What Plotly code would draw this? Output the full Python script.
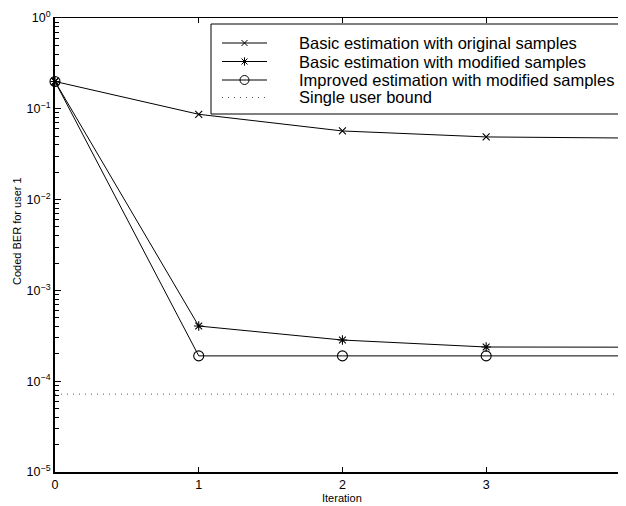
import plotly.graph_objects as go

iterations = [0, 1, 2, 3, 4]
ber_basic_original = [0.2, 0.087, 0.057, 0.049, 0.0476]
ber_basic_modified = [0.2, 4.05e-4, 2.84e-4, 2.38e-4, 2.37e-4]
ber_improved_modified = [0.2, 1.9e-4, 1.9e-4, 1.9e-4, 1.9e-4]
single_user_bound = [7.2e-5, 7.2e-5]
bound_x = [0, 4]

names = ["Basic estimation with original samples",
         "Basic estimation with modified samples",
         "Improved estimation with modified samples",
         "Single user bound"]

ytick_vals = [1e-5, 1e-4, 1e-3, 1e-2, 1e-1, 1e0]
ytick_text = ["10<sup>−5</sup>", "10<sup>−4</sup>", "10<sup>−3</sup>",
              "10<sup>−2</sup>", "10<sup>−1</sup>", "10<sup>0</sup>"]
xtick_vals = [0, 1, 2, 3]
minor_vals = [m * 10 ** e for e in range(-5, 0) for m in range(2, 10)]

FONT = "Liberation Sans, Arial, sans-serif"
X_MAX = 3.973
BODY = 8  # default page margin of the html body

# plot-area geometry in page pixels
PL, PR, PT, PB = 55, 626, 18, 472
PW, PH = PR - PL, PB - PT


def px_to_paper(px, py):
    return (px - PL) / PW, (PB - py) / PH


symbols = ["x-thin-open", "asterisk-open", "circle-open"]
msizes = [7, 8, 10]

fig = go.Figure()
series = [ber_basic_original, ber_basic_modified, ber_improved_modified]
for s, name, sym, ms in zip(series, names[:3], symbols, msizes):
    fig.add_trace(go.Scatter(x=iterations, y=s, name=name,
                             mode="lines+markers", cliponaxis=False, showlegend=False,
                             line=dict(color="black", width=1),
                             marker=dict(symbol=sym, size=ms, color="black",
                                         line=dict(color="black", width=1.1))))
fig.add_trace(go.Scatter(x=bound_x, y=single_user_bound, name=names[3],
                         mode="lines", showlegend=False,
                         line=dict(color="#555555", width=1, dash="1px,5px")))

# ---- hand-built legend (MATLAB style box) on a pixel-mapped helper axis ----
LEG_L, LEG_R, LEG_T, LEG_B = 211, 619, 24, 114
row_y = [43, 61.5, 80, 97.5]
samp_x0, samp_x1, text_x = 222, 267, 297

shapes = [dict(type="rect", xref="x3", yref="y3", x0=LEG_L, x1=LEG_R, y0=LEG_T, y1=LEG_B,
               line=dict(color="black", width=1), fillcolor="white", layer="below")]
for i, ry in enumerate(row_y):
    shapes.append(dict(type="line", xref="x3", yref="y3", x0=samp_x0, x1=samp_x1,
                       y0=ry, y1=ry,
                       line=dict(color="black" if i < 3 else "#555555", width=1,
                                 dash="solid" if i < 3 else "1px,5px")))
for i in range(3):
    fig.add_trace(go.Scatter(x=[(samp_x0 + samp_x1) / 2], y=[row_y[i]], xaxis="x3", yaxis="y3",
                             mode="markers", cliponaxis=False, showlegend=False,
                             hoverinfo="skip",
                             marker=dict(symbol=symbols[i], size=msizes[i] - 1, color="black",
                                         line=dict(color="black", width=1))))

annotations = []
for n, ry in zip(names, row_y):
    ax_, ay_ = px_to_paper(text_x, ry)
    annotations.append(dict(text=n, xref="paper", yref="paper", x=ax_, y=ay_,
                            xanchor="left", yanchor="middle", showarrow=False,
                            font=dict(family=FONT, size=16.5, color="black")))
yx, yy = px_to_paper(17, 231)
annotations.append(dict(text="Coded BER for user 1", textangle=-90, xref="paper", yref="paper",
                        x=yx, y=yy, xanchor="center", yanchor="middle", showarrow=False,
                        font=dict(size=11, family=FONT)))
tx, ty = px_to_paper(342, 498)
annotations.append(dict(text="Iteration", xref="paper", yref="paper", x=tx, y=ty,
                        xanchor="center", yanchor="middle", showarrow=False,
                        font=dict(size=11, family=FONT)))

fig.update_layout(
    width=626 - BODY, height=506 - BODY,
    margin=dict(l=PL - BODY, r=0, t=PT - BODY, b=506 - PB, pad=0, autoexpand=False),
    paper_bgcolor="white", plot_bgcolor="white",
    font=dict(family=FONT, size=12, color="black"),
    showlegend=False,
    xaxis=dict(range=[0, X_MAX], tickvals=xtick_vals, ticks="inside", ticklen=5,
               tickwidth=1, tickcolor="black", showline=True, linewidth=2,
               linecolor="black", showgrid=False, zeroline=False,
               tickfont=dict(size=12.5), automargin=False),
    xaxis2=dict(range=[0, X_MAX], overlaying="x", side="top", tickvals=[1, 2, 3],
                ticks="inside", ticklen=5, tickwidth=1, tickcolor="black",
                showline=True, linewidth=1, linecolor="black",
                showticklabels=False, showgrid=False, zeroline=False, automargin=False),
    xaxis3=dict(range=[PL, PR], overlaying="x", anchor="y3", visible=False,
                showgrid=False, zeroline=False),
    yaxis=dict(type="log", range=[-5, 0], tickvals=ytick_vals, ticktext=ytick_text,
               ticks="inside", ticklen=6, tickwidth=1, tickcolor="black",
               showline=True, linewidth=2, linecolor="black",
               showgrid=False, zeroline=False, tickfont=dict(size=12.5), automargin=False,
               minor=dict(tickvals=minor_vals, ticks="inside", ticklen=4,
                          tickwidth=1, tickcolor="black", showgrid=False)),
    yaxis2=dict(type="log", range=[-5, 0], overlaying="y", side="right",
                tickvals=ytick_vals, ticks="inside", ticklen=3, tickwidth=1,
                tickcolor="#555555", showline=False, showticklabels=False,
                showgrid=False, zeroline=False, automargin=False),
    yaxis3=dict(range=[PB, PT], overlaying="y", anchor="x3", visible=False,
                showgrid=False, zeroline=False),
    shapes=shapes,
    annotations=annotations,
)

# invisible helper trace to activate the top/right mirror axes
fig.add_trace(go.Scatter(x=[0], y=[1e-5], xaxis="x2", yaxis="y2", mode="markers",
                         marker=dict(opacity=0), showlegend=False, hoverinfo="skip"))

fig.write_html("out.html")
